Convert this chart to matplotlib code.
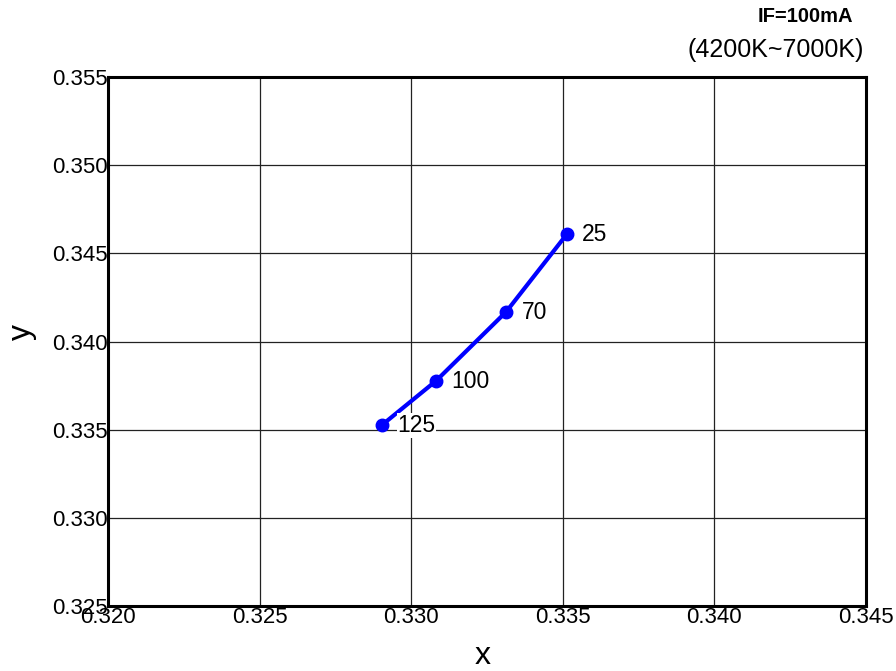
"""Chromaticity shift (CIE x, y) versus temperature at IF=100mA."""

import matplotlib

matplotlib.use("Agg")
import matplotlib.pyplot as plt

plt.rcParams["font.family"] = ["Liberation Sans", "DejaVu Sans"]

# Data
temps = ["25", "70", "100", "125"]
cie_x = [0.33514, 0.33313, 0.33082, 0.32904]
cie_y = [0.34610, 0.34168, 0.33777, 0.33527]

x_ticks = [0.320, 0.325, 0.330, 0.335, 0.340, 0.345]
y_ticks = [0.325, 0.330, 0.335, 0.340, 0.345, 0.350, 0.355]

fig = plt.figure(figsize=(8.96, 6.71), dpi=100)
ax = fig.add_axes([108 / 896, 1 - 606 / 671, (866 - 108) / 896, (606 - 77) / 671])

ax.plot(cie_x, cie_y, color="#0000ff", linewidth=3, zorder=3)
ax.plot(cie_x, cie_y, "o", color="#0000ff", markersize=9, zorder=4)

for t, x, y in zip(temps, cie_x, cie_y):
    bbox = None
    if t == "125":
        bbox = dict(facecolor="white", edgecolor="none", pad=0.5)
    ax.annotate(
        t,
        (x, y),
        xytext=(11, -0.5),
        textcoords="offset points",
        ha="left",
        va="center",
        fontsize=16.5,
        bbox=bbox,
        zorder=5,
    )

ax.set_xlim(0.320, 0.345)
ax.set_ylim(0.325, 0.355)
ax.set_xticks(x_ticks)
ax.set_yticks(y_ticks)
ax.set_xticklabels([f"{v:.3f}" for v in x_ticks])
ax.set_yticklabels([f"{v:.3f}" for v in y_ticks])
ax.tick_params(length=0, labelsize=16, pad=0.5)
ax.grid(True, color="#222222", linewidth=0.9)
for spine in ax.spines.values():
    spine.set_linewidth(2.2)

ax.set_xlabel("x", fontsize=23, va="center")
ax.set_ylabel("y", fontsize=23, va="center")
ax.xaxis.set_label_coords(0.4947, -0.0945)
ax.yaxis.set_label_coords(-0.1135, 0.518)

fig.text(853 / 896, 1 - 17 / 671, "IF=100mA", ha="right", va="center",
         fontsize=14.5, fontweight="bold")
fig.text(864 / 896, 1 - 50 / 671, "(4200K~7000K)", ha="right", va="center",
         fontsize=18)

fig.savefig("out.png", dpi=100)
plt.close(fig)
